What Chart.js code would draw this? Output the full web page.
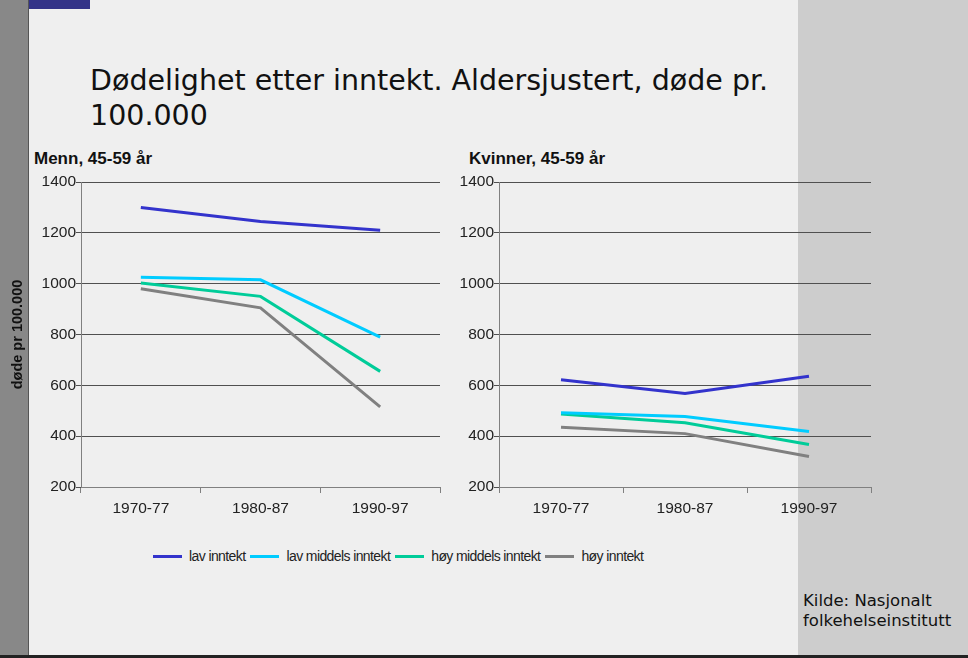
<!DOCTYPE html>
<html>
<head>
<meta charset="utf-8">
<script src="https://cdn.jsdelivr.net/npm/chart.js"></script>
<style>
  html, body { margin: 0; padding: 0; }
  body { width: 968px; height: 658px; position: relative; overflow: hidden; background: #efefef; font-family: "Liberation Sans", Arial, sans-serif; }
  .strip { position: absolute; left: 0; top: 0; width: 28px; height: 658px; background: #888; border-right: 1px solid #555; }
  .bluebar { position: absolute; left: 29px; top: 0; width: 61px; height: 9px; background: #333388; }
  .side { position: absolute; left: 798px; top: 0; width: 170px; height: 658px; background: #cdcdcd; }
  .bottomline { position: absolute; left: 0; top: 655px; width: 968px; height: 3px; background: #222; }
  .title { position: absolute; left: 90px; top: 63px; font-family: "DejaVu Sans", Verdana, sans-serif; font-size: 28.5px; line-height: 35px; color: #111; }
  .subtitle { position: absolute; top: 149px; font-weight: bold; font-size: 17px; color: #111; }
  .box { position: absolute; top: 172px; height: 350px; }
  #legend { position: absolute; left: 153px; top: 548px; display: flex; align-items: center; font-size: 14px; letter-spacing: -0.6px; color: #222; }
  #legend .ln { width: 29px; height: 3px; margin-right: 7px; }
  #legend .tx { margin-right: 5px; }
  .source { position: absolute; left: 803px; top: 591px; font-family: "DejaVu Sans", Verdana, sans-serif; font-size: 16.5px; line-height: 20px; color: #111; }
</style>
</head>
<body>
<div class="side"></div>
<div class="strip"></div>
<div class="bluebar"></div>
<div class="bottomline"></div>
<div class="title">Dødelighet etter inntekt. Aldersjustert, døde pr.<br>100.000</div>
<div class="subtitle" style="left:34px">Menn, 45-59 år</div>
<div class="subtitle" style="left:469px">Kvinner, 45-59 år</div>
<div class="box" style="left:0px;width:447px"><canvas id="menn"></canvas></div>
<div class="box" style="left:455px;width:420px"><canvas id="kvinner"></canvas></div>
<div id="legend"></div>
<div class="source">Kilde: Nasjonalt<br>folkehelseinstitutt</div>

<script>
var categories = ['1970-77', '1980-87', '1990-97'];
var seriesNames = ['lav inntekt', 'lav middels inntekt', 'høy middels inntekt', 'høy inntekt'];
var seriesColors = ['#3333cc', '#00ccff', '#00cc99', '#808080'];

var mennLav = [1300, 1245, 1210];
var mennLavMiddels = [1025, 1015, 790];
var mennHoyMiddels = [1003, 950, 655];
var mennHoy = [980, 905, 515];

var kvinnerLav = [622, 568, 636];
var kvinnerLavMiddels = [492, 477, 418];
var kvinnerHoyMiddels = [487, 453, 367];
var kvinnerHoy = [435, 410, 320];

var yMin = 200, yMax = 1400, yStep = 200;
var yAxisTitle = 'døde pr 100.000';

function makeDatasets(rows) {
    return rows.map(function(values, i) {
        return {
            label: seriesNames[i],
            data: values,
            borderColor: seriesColors[i],
            backgroundColor: seriesColors[i],
            borderWidth: 3,
            pointRadius: 0,
            tension: 0,
            fill: false
        };
    });
}

function makeChart(id, rows, yWidth, padRight, showTitle) {
    var ctx = document.getElementById(id).getContext('2d');
    return new Chart(ctx, {
        type: 'line',
        data: { labels: categories, datasets: makeDatasets(rows) },
        options: {
            responsive: true,
            maintainAspectRatio: false,
            animation: false,
            layout: { padding: { top: 10, right: padRight, left: 0, bottom: 0 } },
            plugins: { legend: { display: false }, tooltip: { enabled: false } },
            scales: {
                x: {
                    offset: true,
                    grid: { drawOnChartArea: false, drawTicks: true, tickLength: 6, color: '#808080', offset: true },
                    border: { color: '#808080', width: 1 },
                    ticks: { color: '#222', padding: 6, font: { family: 'Liberation Sans', size: 15.5 } },
                    afterFit: function(scale) { scale.height = 35; }
                },
                y: {
                    min: yMin,
                    max: yMax,
                    grid: { color: '#505050', lineWidth: 1, tickLength: 5 },
                    border: { color: '#808080', width: 1 },
                    ticks: {
                        stepSize: yStep, color: '#222', padding: 0,
                        font: { family: 'Liberation Sans', size: 15.5 },
                        callback: function(v) { return String(v); }
                    },
                    title: {
                        display: showTitle,
                        text: yAxisTitle,
                        color: '#111',
                        padding: { top: 9, bottom: 0 },
                        font: { family: 'Liberation Sans', size: 14.5, weight: 'bold' }
                    },
                    afterFit: function(scale) { scale.width = yWidth; }
                }
            }
        }
    });
}

makeChart('menn', [mennLav, mennLavMiddels, mennHoyMiddels, mennHoy], 81, 7, true);
makeChart('kvinner', [kvinnerLav, kvinnerLavMiddels, kvinnerHoyMiddels, kvinnerHoy], 44, 4, false);

var legend = document.getElementById('legend');
seriesNames.forEach(function(name, i) {
    var ln = document.createElement('span');
    ln.className = 'ln';
    ln.style.background = seriesColors[i];
    var tx = document.createElement('span');
    tx.className = 'tx';
    tx.textContent = name;
    legend.appendChild(ln);
    legend.appendChild(tx);
});
</script>
</body>
</html>
